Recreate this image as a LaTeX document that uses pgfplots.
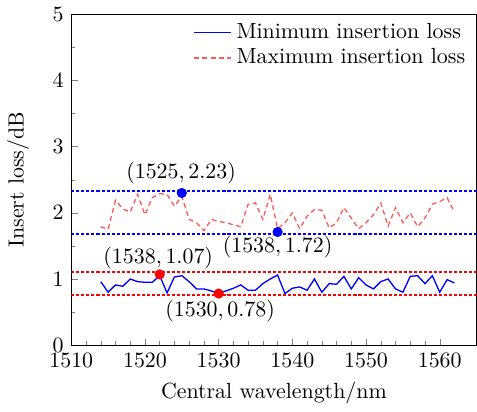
\documentclass[border=0pt]{standalone}
\usepackage{pgfplots}
\pgfplotsset{compat=1.18}
\definecolor{cblue}{RGB}{0,0,255}
\definecolor{cred}{RGB}{255,0,0}
\definecolor{lred}{RGB}{255,90,90}
\begin{document}
\begin{tikzpicture}
\begin{axis}[
  scale only axis, width=185pt, height=151pt,
  xmin=1510, xmax=1565, ymin=0, ymax=5,
  xtick={1510,1520,...,1560}, ytick={0,1,...,5},
  minor x tick num=4, minor y tick num=1,
  tick align=inside, xtick pos=bottom, ytick pos=left,
  major tick length=3pt, minor tick length=1.8pt,
  xticklabel style={/pgf/number format/1000 sep={}},
  xlabel={Central wavelength/nm}, ylabel={Insert loss/dB},
  ylabel style={yshift=3.8pt},
  legend style={draw=none, fill=none, at={(1,1)}, anchor=north east, font=\normalsize, row sep=-1pt},
  legend cell align=left,
]
\addplot[draw=cblue, line width=0.6pt] coordinates {
(1514,0.96)(1515,0.80)(1516,0.91)(1517,0.89)(1518,1.00)(1519,0.96)(1520,0.95)(1521,0.95)
(1522,1.05)(1523,0.79)(1524,1.03)(1525,1.05)(1526,0.96)(1527,0.85)(1528,0.85)(1529,0.82)
(1530,0.78)(1531,0.82)(1532,0.86)(1533,0.91)(1534,0.83)(1535,0.83)(1536,0.93)(1537,1.00)
(1538,1.06)(1539,0.78)(1540,0.86)(1541,0.88)(1542,0.83)(1543,1.00)(1544,0.80)(1545,0.93)
(1546,0.92)(1547,1.04)(1548,0.85)(1549,1.02)(1550,0.91)(1551,0.85)(1552,0.96)(1553,1.00)
(1554,0.85)(1555,0.80)(1556,1.04)(1557,1.05)(1558,0.93)(1559,1.05)(1560,0.80)(1561,0.99)
(1562,0.94)};
\addlegendentry{Minimum insertion loss}
\addplot[draw=lred, line width=0.6pt, dash pattern=on 2.2pt off 1.6pt] coordinates {
(1514,1.79)(1515,1.75)(1516,2.19)(1517,2.06)(1518,2.01)(1519,2.28)(1520,1.97)(1521,2.23)
(1522,2.29)(1523,2.28)(1524,2.10)(1525,2.25)(1526,1.90)(1527,1.85)(1528,1.73)(1529,1.90)
(1530,1.87)(1531,1.85)(1532,1.82)(1533,1.79)(1534,2.13)(1535,2.15)(1536,1.90)(1537,2.28)
(1538,1.76)(1539,1.85)(1540,2.00)(1541,1.76)(1542,1.95)(1543,2.05)(1544,2.04)(1545,1.77)
(1546,1.85)(1547,2.08)(1548,1.92)(1549,1.76)(1550,1.85)(1551,1.97)(1552,2.15)(1553,1.80)
(1554,2.08)(1555,1.85)(1556,2.00)(1557,1.79)(1558,1.92)(1559,2.13)(1560,2.17)(1561,2.23)
(1562,2.01)};
\addlegendentry{Maximum insertion loss}
\addplot[draw=cblue, line width=0.75pt, dash pattern=on 1.4pt off 0.9pt, forget plot] coordinates {(1510,2.33)(1565,2.33)};
\addplot[draw=cblue, line width=0.75pt, dash pattern=on 1.4pt off 0.9pt, forget plot] coordinates {(1510,1.68)(1565,1.68)};
\addplot[draw=cred, line width=0.75pt, dash pattern=on 1.4pt off 0.9pt, forget plot] coordinates {(1510,1.11)(1565,1.11)};
\addplot[draw=cred, line width=0.75pt, dash pattern=on 1.4pt off 0.9pt, forget plot] coordinates {(1510,0.76)(1565,0.76)};
\addplot[only marks, mark=*, draw=cblue, fill=cblue, mark size=2.1pt, forget plot] coordinates {(1525,2.30)(1538,1.71)};
\addplot[only marks, mark=*, draw=cred, fill=cred, mark size=2.1pt, forget plot] coordinates {(1522,1.07)(1530,0.78)};
\node at (axis cs:1524.9,2.60) {$(1525, 2.23)$};
\node at (axis cs:1538,1.48) {$(1538, 1.72)$};
\node at (axis cs:1521.8,1.32) {$(1538, 1.07)$};
\node at (axis cs:1530.2,0.52) {$(1530, 0.78)$};
\end{axis}
\end{tikzpicture}
\end{document}
